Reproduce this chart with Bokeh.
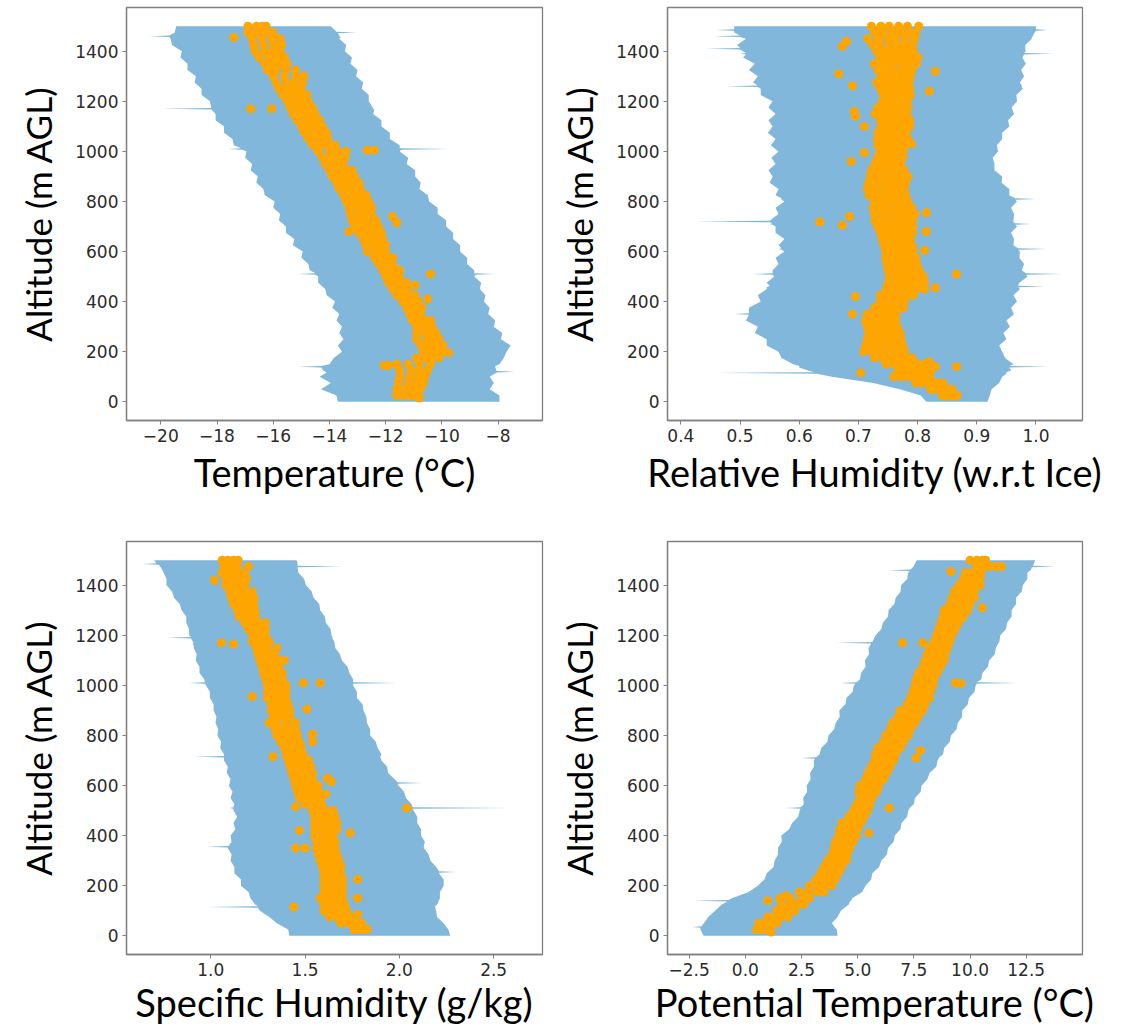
from bokeh.plotting import figure
from bokeh.layouts import row, column
from bokeh.models import FixedTicker, Range1d
from bokeh.embed import file_html
from bokeh.resources import INLINE

# ---------------- data ----------------
alt_ticks = [0, 200, 400, 600, 800, 1000, 1200, 1400]
alt_labels = ["0", "200", "400", "600", "800", "1000", "1200", "1400"]
alt_range = (-75, 1575)

# altitude of the rows of profile points (descending, m AGL)
pt_alt = list(range(1500, 0, -25))

# ---- Temperature ----
t_ticks = [-20, -18, -16, -14, -12, -10, -8]
t_labels = ["\u221220", "\u221218", "\u221216", "\u221214", "\u221212", "\u221210", "\u22128"]
t_range = (-21.22, -6.42)
t_band_alt = [0, 25, 50, 75, 100,
              117, 120, 123, 137, 140, 143,
              150, 175, 200, 225, 250, 275, 300, 325, 350, 375, 400, 425, 450, 475, 500,
              507, 510, 513,
              525, 550, 575, 600, 625, 650, 675, 700, 725, 750, 775, 800, 825, 850, 875, 900, 925, 950, 975, 1000,
              1007, 1010, 1013,
              1025, 1050, 1075, 1100, 1125, 1150,
              1167, 1170, 1173,
              1200, 1225, 1250, 1275, 1300, 1325, 1350, 1375, 1400, 1425, 1450,
              1457, 1460, 1463, 1472, 1475, 1478,
              1500]
t_band_lo = [-13.7, -13.75, -14.3, -13.95, -14.35,
             -14.1, -14.15, -14.2, -14.3, -15.1, -14.3,
             -14.0, -13.85, -13.55, -13.7, -13.5, -13.65, -13.55, -13.75, -13.65, -13.9, -13.8, -14.1, -14.15, -14.4, -14.4,
             -14.5, -15.1, -14.5,
             -14.7, -14.75, -15.0, -14.95, -15.3, -15.25, -15.55, -15.55, -15.8, -15.75, -16.0, -15.95, -16.3, -16.35,
             -16.6, -16.55, -16.8, -16.75, -17.0, -16.95,
             -17.1, -17.6, -17.15,
             -17.4, -17.45, -17.75, -17.75, -18.05, -18.05,
             -18.2, -19.95, -18.2,
             -18.25, -18.55, -18.55, -18.8, -18.75, -19.05, -19.05, -19.3, -19.25, -19.6, -19.65,
             -19.7, -20.4, -19.7, -19.55, -19.5, -19.5,
             -19.45]
t_band_hi = [-7.95, -7.95, -8.3, -8.15, -8.3,
             -8.05, -7.4, -8.05, -8.1, -8.1, -8.1,
             -7.95, -7.8, -7.7, -7.55, -7.9, -7.85, -8.15, -8.1, -8.35, -8.3, -8.5, -8.45, -8.65, -8.6, -8.85,
             -8.8, -8.15, -8.85,
             -8.85, -9.1, -9.1, -9.35, -9.35, -9.6, -9.6, -9.85, -9.85, -10.15, -10.15, -10.45, -10.5, -10.8, -10.75,
             -10.95, -10.95, -11.25, -11.2, -11.5,
             -11.45, -9.7, -11.5,
             -11.5, -11.85, -11.85, -12.15, -12.15, -12.45,
             -12.4, -12.45, -12.45,
             -12.6, -12.6, -12.85, -12.8, -13.05, -13.0, -13.25, -13.2, -13.45, -13.4, -13.65,
             -13.6, -13.65, -13.65, -13.7, -13.05, -13.75,
             -13.95]
t_p1 = [-16.9, -16.9, -16.75, -16.7, -16.65, -16.5, -16.3, -16.2, -16.0, -15.9, -15.8, -15.65, -15.5, -15.4, -15.3,
        -15.15, -15.0, -14.9, -14.75, -14.6, -14.4, -14.25, -14.15, -14.0, -13.9, -13.75, -13.65, -13.5, -13.4,
        -13.3, -13.25, -13.2, -13.1, -12.95, -12.8, -12.7, -12.65, -12.4, -12.25, -12.1, -12.0, -11.9, -11.75,
        -11.6, -11.4, -11.25, -11.15, -11.05, -10.9, -10.9, -10.9, -10.75, -10.65, -10.9, -11.6, -11.5, -11.5,
        -11.55, -11.6, -11.6]
t_p2 = [-16.6, -16.6, -16.4, -16.35, -16.3, -16.15, -16.0, -15.9, -15.6, -15.55, -15.5, -15.35, -15.2, -15.1, -15.0,
        -14.85, -14.75, -14.6, -14.5, -14.3, -14.0, -13.95, -13.85, -13.7, -13.6, -13.45, -13.35, -13.2, -13.1,
        -13.0, -12.95, -12.9, -12.8, -12.65, -12.5, -12.4, -12.35, -12.15, -12.0, -11.85, -11.75, -11.65, -11.5,
        -11.35, -11.15, -11.0, -10.95, -10.8, -10.65, -10.6, -10.55, -10.45, -10.4, -10.6, -11.2, -11.1, -11.15,
        -11.2, -11.3, -11.35]
t_p3 = [-16.4, -16.3, -16.05, -16.0, -16.0, -15.85, -15.75, -15.55, -15.2, -15.25, -15.25, -15.05, -14.95, -14.85,
        -14.75, -14.6, -14.5, -14.35, -14.25, -14.05, -13.7, -13.7, -13.6, -13.45, -13.35, -13.2, -13.1, -12.95,
        -12.85, -12.75, -12.7, -12.6, -12.5, -12.4, -12.3, -12.2, -12.15, -11.95, -11.8, -11.65, -11.6, -11.45,
        -11.35, -11.15, -10.95, -10.8, -10.8, -10.6, -10.5, -10.35, -10.3, -10.2, -10.2, -10.35, -10.8, -10.8,
        -10.85, -10.9, -11.0, -11.1]
t_p4 = [-16.25, -16.0, -15.75, -15.7, -15.75, -15.6, -15.5, -15.2, -14.9, -14.95, -15.0, -14.8, -14.75, -14.6, -14.5,
        -14.35, -14.25, -14.1, -14.05, -13.8, -13.4, -13.45, -13.5, -13.2, -13.1, -12.95, -12.9, -12.7, -12.6,
        -12.5, -12.5, -12.35, -12.25, -12.15, -12.1, -12.0, -12.0, -11.75, -11.75, -11.5, -11.5, -11.25, -11.25,
        -10.95, -10.85, -10.7, -10.75, -10.4, -10.35, -10.2, -10.1, -9.95, -10.0, -10.1, -10.4, -10.5, -10.6,
        -10.65, -10.75, -10.95]
t_out_x = [-17.4, -16.8, -16.05, -12.65, -12.4, -11.75, -11.6, -13.3, -10.4, -10.95, -10.5, -9.75, -12.05, -11.9, -10.8]
t_out_y = [1455, 1170, 1170, 1005, 1005, 740, 715, 680, 510, 465, 410, 195, 145, 145, 15]

# ---- Relative humidity ----
rh_ticks = [0.4, 0.5, 0.6, 0.7, 0.8, 0.9, 1.0]
rh_labels = ["0.4", "0.5", "0.6", "0.7", "0.8", "0.9", "1.0"]
rh_range = (0.3774, 1.0787)
rh_band_alt = [0, 25, 50, 75, 100,
               112, 115, 118, 125, 137, 140, 143,
               150, 175, 200, 225, 250, 275, 300, 325,
               347, 350, 353, 375, 400, 425, 450,
               457, 460, 463, 475, 500,
               507, 510, 513, 525, 550, 575, 600,
               607, 610, 613, 625, 650, 675, 700,
               707, 710, 713, 717, 720, 723, 750, 775, 800,
               807, 810, 813,
               825, 850, 875, 900, 925, 950, 975, 1000, 1025, 1050, 1075, 1100, 1125, 1150, 1175, 1200, 1225, 1250,
               1257, 1260, 1263, 1275, 1300, 1325, 1350, 1375,
               1387, 1390, 1393, 1400, 1407, 1410, 1413, 1425, 1450,
               1457, 1460, 1463, 1475, 1482, 1485, 1488, 1500]
rh_band_lo = [0.815, 0.805, 0.77, 0.725, 0.655,
              0.63, 0.46, 0.625, 0.615, 0.6, 0.6, 0.6,
              0.59, 0.57, 0.565, 0.545, 0.545, 0.525, 0.53, 0.51,
              0.515, 0.49, 0.515, 0.515, 0.535, 0.53, 0.545,
              0.545, 0.548, 0.55, 0.545, 0.558,
              0.555, 0.52, 0.555, 0.555, 0.565, 0.56, 0.575,
              0.57, 0.565, 0.57, 0.565, 0.575, 0.56, 0.56,
              0.555, 0.55, 0.555, 0.55, 0.425, 0.55, 0.565, 0.56, 0.575,
              0.57, 0.57, 0.57,
              0.56, 0.565, 0.55, 0.555, 0.548, 0.56, 0.553, 0.565, 0.552, 0.56, 0.547, 0.555, 0.548, 0.56, 0.548,
              0.555, 0.535, 0.535,
              0.53, 0.475, 0.53, 0.522, 0.53, 0.515, 0.525, 0.505,
              0.51, 0.5, 0.51, 0.505, 0.5, 0.443, 0.5, 0.495, 0.51,
              0.5, 0.456, 0.5, 0.49, 0.49, 0.46, 0.49, 0.49]
rh_band_hi = [0.918, 0.922, 0.925, 0.938, 0.943,
              0.95, 0.95, 0.95, 0.958, 0.955, 1.02, 0.955,
              0.962, 0.948, 0.943, 0.938, 0.95, 0.945, 0.956, 0.95,
              0.962, 0.962, 0.962, 0.958, 0.968, 0.962, 0.973,
              0.97, 1.014, 0.97, 0.972, 0.986,
              0.983, 1.045, 0.983, 0.976, 0.98, 0.972, 0.973,
              0.97, 1.02, 0.97, 0.962, 0.963, 0.958, 0.968,
              0.965, 0.99, 0.965, 0.962, 0.962, 0.962, 0.963, 0.958, 0.968,
              0.965, 1.0, 0.965,
              0.955, 0.955, 0.942, 0.943, 0.93, 0.93, 0.927, 0.936, 0.934, 0.943, 0.943, 0.955, 0.953, 0.963, 0.959,
              0.968, 0.967, 0.978,
              0.976, 0.976, 0.976, 0.973, 0.98, 0.975, 0.983, 0.977,
              0.98, 1.03, 0.98, 0.983, 0.982, 0.982, 0.982, 0.982, 0.993,
              0.993, 0.995, 0.995, 0.998, 1.0, 1.02, 1.0, 1.0]
rh_p1 = [0.722, 0.728, 0.716, 0.724, 0.731, 0.736, 0.727, 0.733, 0.738, 0.731,
         0.737, 0.742, 0.741, 0.733, 0.728, 0.737, 0.738, 0.733, 0.732, 0.733,
         0.736, 0.732, 0.728, 0.722, 0.72, 0.717, 0.715, 0.718, 0.727, 0.725,
         0.727, 0.728, 0.732, 0.737, 0.74, 0.743, 0.746, 0.746, 0.748, 0.75,
         0.752, 0.75, 0.747, 0.737, 0.737, 0.727, 0.715, 0.712, 0.715, 0.717,
         0.715, 0.712, 0.709, 0.727, 0.747, 0.767, 0.772, 0.797, 0.822, 0.842]
rh_p2 = [0.738, 0.741, 0.733, 0.737, 0.745, 0.749, 0.742, 0.747, 0.75, 0.745,
         0.749, 0.753, 0.751, 0.745, 0.741, 0.749, 0.748, 0.744, 0.744, 0.743,
         0.745, 0.742, 0.738, 0.734, 0.733, 0.73, 0.728, 0.731, 0.739, 0.738,
         0.741, 0.741, 0.745, 0.749, 0.751, 0.753, 0.757, 0.758, 0.76, 0.762,
         0.765, 0.763, 0.76, 0.749, 0.746, 0.738, 0.726, 0.724, 0.727, 0.729,
         0.728, 0.726, 0.723, 0.741, 0.761, 0.78, 0.784, 0.808, 0.831, 0.848]
rh_p3 = [0.752, 0.757, 0.749, 0.754, 0.758, 0.763, 0.756, 0.758, 0.761, 0.757,
         0.759, 0.764, 0.76, 0.756, 0.753, 0.759, 0.758, 0.755, 0.756, 0.754,
         0.754, 0.752, 0.748, 0.747, 0.746, 0.744, 0.742, 0.745, 0.751, 0.751,
         0.755, 0.754, 0.757, 0.761, 0.761, 0.764, 0.767, 0.769, 0.771, 0.774,
         0.777, 0.776, 0.773, 0.761, 0.755, 0.749, 0.737, 0.735, 0.738, 0.741,
         0.74, 0.739, 0.737, 0.755, 0.775, 0.792, 0.795, 0.818, 0.84, 0.853]
rh_p4 = [0.768, 0.771, 0.762, 0.768, 0.771, 0.777, 0.771, 0.772, 0.772, 0.769,
         0.771, 0.773, 0.769, 0.767, 0.764, 0.77, 0.769, 0.765, 0.767, 0.764,
         0.762, 0.761, 0.757, 0.758, 0.76, 0.757, 0.755, 0.758, 0.763, 0.765,
         0.769, 0.767, 0.769, 0.772, 0.771, 0.774, 0.777, 0.779, 0.782, 0.785,
         0.789, 0.788, 0.786, 0.773, 0.764, 0.76, 0.748, 0.746, 0.749, 0.752,
         0.752, 0.752, 0.751, 0.768, 0.788, 0.803, 0.805, 0.827, 0.847, 0.858]
rh_p5 = [0.783, 0.786, 0.779, 0.781, 0.784, 0.789, 0.784, 0.783, 0.781, 0.778,
         0.779, 0.781, 0.777, 0.776, 0.774, 0.779, 0.778, 0.774, 0.776, 0.772,
         0.769, 0.769, 0.765, 0.768, 0.772, 0.769, 0.767, 0.769, 0.774, 0.778,
         0.782, 0.78, 0.781, 0.782, 0.78, 0.783, 0.785, 0.788, 0.791, 0.794,
         0.8, 0.8, 0.799, 0.784, 0.772, 0.769, 0.757, 0.755, 0.758, 0.762,
         0.763, 0.764, 0.765, 0.78, 0.8, 0.814, 0.814, 0.836, 0.853, 0.862]
rh_p6 = [0.802, 0.797, 0.795, 0.792, 0.793, 0.801, 0.798, 0.791, 0.788, 0.786,
         0.787, 0.788, 0.783, 0.784, 0.782, 0.787, 0.787, 0.781, 0.784, 0.779,
         0.776, 0.775, 0.772, 0.777, 0.784, 0.78, 0.778, 0.78, 0.784, 0.79,
         0.796, 0.792, 0.792, 0.792, 0.788, 0.791, 0.793, 0.797, 0.799, 0.803,
         0.81, 0.812, 0.812, 0.793, 0.778, 0.776, 0.764, 0.763, 0.766, 0.771,
         0.772, 0.775, 0.778, 0.791, 0.811, 0.823, 0.821, 0.843, 0.858, 0.867]
rh_out_x = [0.68, 0.673, 0.667, 0.83, 0.69, 0.82, 0.693, 0.695, 0.71, 0.71, 0.79, 0.688, 0.815, 0.635, 0.673, 0.685,
            0.815, 0.812, 0.866, 0.83, 0.695, 0.69, 0.83, 0.866, 0.704, 0.82, 0.76]
rh_out_y = [1440, 1420, 1310, 1320, 1262, 1240, 1160, 1140, 1100, 995, 1030, 960, 755, 718, 705, 740, 680, 605, 510,
            455, 420, 350, 140, 140, 115, 160, 100]

# ---- Specific humidity ----
q_ticks = [1.0, 1.5, 2.0, 2.5]
q_labels = ["1.0", "1.5", "2.0", "2.5"]
q_range = (0.553, 2.759)
q_band_alt = [0, 25, 50, 75, 100,
              112, 115, 118, 125, 150, 175, 200, 225, 250,
              252, 255, 258, 275, 300, 325, 350,
              352, 355, 358, 375, 400, 425, 450, 475, 500,
              507, 510, 513, 525, 550, 575, 600,
              607, 610, 613, 625, 650, 675, 700,
              712, 715, 718, 725, 750, 775, 800, 825, 850, 875, 900, 925, 950, 975, 1000,
              1007, 1010, 1013, 1025, 1050, 1075, 1100, 1125, 1150, 1175,
              1187, 1190, 1193, 1200, 1225, 1250, 1275, 1300, 1325, 1350, 1375, 1400, 1425, 1450,
              1472, 1475, 1478, 1482, 1485, 1488, 1500]
q_band_lo = [1.417, 1.41, 1.35, 1.31, 1.26,
             1.25, 0.98, 1.25, 1.235, 1.21, 1.2, 1.16, 1.16, 1.125,
             1.125, 1.125, 1.125, 1.125, 1.105, 1.11, 1.09,
             1.09, 0.98, 1.095, 1.11, 1.105, 1.13, 1.12, 1.14, 1.12,
             1.12, 1.1, 1.12, 1.125, 1.105, 1.115, 1.095,
             1.1, 1.1, 1.1, 1.105, 1.085, 1.09, 1.07,
             1.07, 0.915, 1.07, 1.07, 1.05, 1.055, 1.035, 1.04, 1.025, 1.03, 1.015, 1.015, 0.995, 0.995, 0.975,
             0.97, 0.886, 0.97, 0.965, 0.94, 0.94, 0.92, 0.925, 0.91, 0.905,
             0.895, 0.77, 0.895, 0.885, 0.885, 0.87, 0.87, 0.845, 0.835, 0.805, 0.795, 0.765, 0.765, 0.75,
             0.735, 0.73, 0.73, 0.72, 0.64, 0.71, 0.70]
q_band_hi = [2.27, 2.26, 2.235, 2.2, 2.195,
             2.19, 2.19, 2.19, 2.2, 2.215, 2.215, 2.235, 2.235, 2.21,
             2.21, 2.3, 2.21, 2.195, 2.165, 2.155, 2.13,
             2.13, 2.13, 2.13, 2.135, 2.115, 2.115, 2.095, 2.095, 2.075,
             2.07, 2.61, 2.07, 2.065, 2.035, 2.025, 1.995,
             1.99, 2.12, 1.99, 1.975, 1.94, 1.935, 1.905,
             1.9, 1.9, 1.9, 1.905, 1.885, 1.875, 1.845, 1.845, 1.828, 1.825, 1.81, 1.805, 1.775, 1.775, 1.755,
             1.755, 1.985, 1.755, 1.755, 1.735, 1.725, 1.695, 1.685, 1.66, 1.655,
             1.645, 1.645, 1.645, 1.64, 1.635, 1.61, 1.605, 1.58, 1.575, 1.545, 1.535, 1.505, 1.495, 1.465,
             1.46, 1.7, 1.46, 1.46, 1.46, 1.46, 1.455]
q_p1 = [1.06, 1.07, 1.06, 1.08, 1.08, 1.1, 1.11, 1.12, 1.14, 1.15, 1.18, 1.2, 1.22, 1.22, 1.24, 1.25, 1.26, 1.27,
        1.28, 1.29, 1.3, 1.3, 1.3, 1.32, 1.32, 1.33, 1.31, 1.34, 1.35, 1.37, 1.39, 1.4, 1.41, 1.42, 1.43, 1.44, 1.45,
        1.46, 1.47, 1.5, 1.54, 1.55, 1.55, 1.55, 1.55, 1.56, 1.56, 1.57, 1.58, 1.59, 1.6, 1.6, 1.6, 1.6, 1.58, 1.6,
        1.6, 1.63, 1.69, 1.76]
q_p2 = [1.09, 1.1, 1.1, 1.12, 1.11, 1.14, 1.15, 1.16, 1.17, 1.18, 1.21, 1.23, 1.25, 1.25, 1.27, 1.28, 1.29, 1.3,
        1.31, 1.32, 1.33, 1.33, 1.33, 1.35, 1.35, 1.36, 1.35, 1.38, 1.39, 1.4, 1.42, 1.43, 1.44, 1.45, 1.47, 1.48,
        1.49, 1.5, 1.5, 1.53, 1.57, 1.59, 1.59, 1.59, 1.59, 1.6, 1.6, 1.61, 1.61, 1.62, 1.63, 1.63, 1.63, 1.63, 1.62,
        1.64, 1.64, 1.67, 1.73, 1.79]
q_p3 = [1.12, 1.14, 1.14, 1.16, 1.15, 1.18, 1.19, 1.2, 1.2, 1.21, 1.25, 1.26, 1.27, 1.28, 1.3, 1.31, 1.32, 1.33,
        1.34, 1.35, 1.36, 1.36, 1.37, 1.38, 1.38, 1.39, 1.4, 1.42, 1.43, 1.44, 1.45, 1.46, 1.48, 1.49, 1.5, 1.51,
        1.53, 1.54, 1.54, 1.56, 1.61, 1.62, 1.63, 1.63, 1.62, 1.63, 1.63, 1.64, 1.65, 1.66, 1.66, 1.67, 1.67, 1.67,
        1.66, 1.68, 1.68, 1.71, 1.77, 1.81]
q_p4 = [1.145, 1.2, 1.18, 1.19, 1.18, 1.22, 1.23, 1.23, 1.235, 1.24, 1.29, 1.29, 1.29, 1.31, 1.35, 1.34, 1.36, 1.36,
        1.38, 1.38, 1.4, 1.4, 1.4, 1.41, 1.42, 1.42, 1.45, 1.45, 1.46, 1.47, 1.48, 1.49, 1.52, 1.53, 1.54, 1.54,
        1.57, 1.57, 1.58, 1.59, 1.65, 1.66, 1.67, 1.67, 1.65, 1.66, 1.66, 1.67, 1.68, 1.69, 1.69, 1.7, 1.7, 1.7, 1.7,
        1.71, 1.72, 1.74, 1.8, 1.83]
q_out_x = [1.02, 1.057, 1.12, 1.39, 1.49, 1.58, 1.22, 1.51, 1.54, 1.54, 1.33, 1.62, 1.64, 1.61, 1.45, 2.04, 1.47,
           1.74, 1.45, 1.5, 1.78, 1.78, 1.44, 1.78]
q_out_y = [1420, 1170, 1165, 1100, 1010, 1010, 955, 905, 805, 775, 715, 630, 615, 565, 515, 510, 420, 410, 350, 350,
           225, 150, 115, 85]

# ---- Potential temperature ----
th_ticks = [-2.5, 0.0, 2.5, 5.0, 7.5, 10.0, 12.5]
th_labels = ["\u22122.5", "0.0", "2.5", "5.0", "7.5", "10.0", "12.5"]
th_range = (-3.466, 15.005)
th_band_alt = [0, 25, 32, 35, 38,
               50, 75, 100, 125, 137,
               140, 143, 150, 175, 200,
               225, 250, 275, 300, 325,
               350, 375, 400, 425, 450,
               475, 500, 507, 510, 513,
               525, 550, 575, 600, 625,
               650, 675, 700, 707, 710,
               713, 725, 750, 775, 800,
               825, 850, 875, 900, 925,
               950, 975, 1000, 1007, 1010,
               1013, 1025, 1050, 1075, 1100,
               1125, 1150, 1167, 1170, 1173,
               1200, 1225, 1250, 1275, 1300,
               1325, 1350, 1375, 1400, 1425,
               1450, 1457, 1460, 1463, 1472,
               1475, 1478, 1500]
th_band_lo = [-1.86, -2.0, -2.0, -2.35, -1.95,
              -1.85, -1.65, -1.35, -1.05, -0.8,
              -2.3, -0.75, -0.6, 0.15, 0.55,
              0.85, 0.95, 1.25, 1.3, 1.45,
              1.45, 1.62, 1.6, 1.95, 2.08,
              2.35, 2.42, 2.45, 1.8, 2.47,
              2.6, 2.57, 2.75, 2.73, 2.9,
              2.88, 3.05, 3.05, 3.1, 2.5,
              3.15, 3.3, 3.38, 3.65, 3.7,
              3.95, 4.02, 4.2, 4.18, 4.45,
              4.5, 4.77, 4.83, 4.9, 4.23,
              4.95, 5.1, 5.15, 5.35, 5.32,
              5.5, 5.48, 5.6, 4.07, 5.65,
              5.8, 6.05, 6.12, 6.35, 6.37,
              6.63, 6.69, 6.91, 6.93, 7.2,
              7.25, 7.3, 6.34, 7.35, 7.45,
              7.5, 7.5, 7.63]
th_band_hi = [4.1, 4.07, 4.0, 3.95, 3.95,
              3.85, 4.1, 4.25, 4.6, 4.65,
              4.7, 4.72, 4.75, 5.2, 5.35,
              5.6, 5.65, 5.95, 6.05, 6.3,
              6.35, 6.6, 6.65, 6.9, 6.95,
              7.2, 7.25, 7.3, 7.32, 7.34,
              7.5, 7.55, 7.8, 7.85, 8.1,
              8.2, 8.5, 8.55, 8.6, 8.62,
              8.64, 8.8, 8.85, 9.1, 9.15,
              9.4, 9.45, 9.65, 9.65, 9.9,
              9.95, 10.2, 10.25, 10.3, 12.15,
              10.3, 10.5, 10.55, 10.8, 10.85,
              11.1, 11.15, 11.25, 11.28, 11.3,
              11.35, 11.6, 11.65, 11.85, 11.85,
              12.05, 12.05, 12.3, 12.35, 12.55,
              12.55, 12.65, 12.7, 12.72, 12.75,
              13.8, 12.8, 12.9]
th_p1 = [10.0, 10.3, 9.8, 9.7, 9.5, 9.3, 9.2, 9.1, 8.85, 8.8, 8.7, 8.6, 8.5, 8.4, 8.2, 8.1, 8.0, 7.9, 7.7, 7.6, 7.55,
         7.45, 7.35, 7.2, 6.9, 6.8, 6.55, 6.45, 6.25, 6.15, 5.9, 5.8, 5.75, 5.6, 5.45, 5.35, 5.1, 5.05, 5.1, 4.95,
         4.8, 4.6, 4.3, 4.2, 4.15, 4.0, 3.95, 3.85, 3.65, 3.5, 3.35, 3.15, 2.85, 2.4, 1.55, 1.6, 1.4, 1.0, 0.6, 0.5]
th_p2 = [10.3, 10.6, 10.1, 10.0, 9.8, 9.6, 9.5, 9.4, 9.2, 9.1, 8.95, 8.85, 8.75, 8.65, 8.5, 8.4, 8.3, 8.15, 8.0,
         7.9, 7.85, 7.7, 7.65, 7.5, 7.2, 7.1, 6.9, 6.75, 6.6, 6.45, 6.25, 6.1, 6.05, 5.9, 5.75, 5.6, 5.4, 5.3, 5.3,
         5.15, 5.0, 4.85, 4.6, 4.5, 4.4, 4.3, 4.2, 4.1, 3.95, 3.8, 3.6, 3.45, 3.2, 2.8, 2.0, 1.95, 1.7, 1.3, 0.9, 0.75]
th_p3 = [10.55, 10.9, 10.3, 10.25, 10.1, 9.9, 9.85, 9.7, 9.5, 9.4, 9.25, 9.1, 9.0, 8.9, 8.75, 8.65, 8.55, 8.4, 8.25,
         8.15, 8.1, 8.0, 7.9, 7.75, 7.55, 7.4, 7.25, 7.05, 6.9, 6.75, 6.6, 6.4, 6.35, 6.2, 6.0, 5.9, 5.7, 5.6, 5.5,
         5.35, 5.25, 5.1, 4.85, 4.75, 4.7, 4.55, 4.45, 4.35, 4.2, 4.05, 3.9, 3.75, 3.5, 3.2, 2.5, 2.3, 1.95, 1.6,
         1.15, 1.0]
th_p4 = [10.7, 11.2, 10.5, 10.45, 10.45, 10.2, 10.2, 10.0, 9.9, 9.7, 9.5, 9.35, 9.2, 9.1, 9.0, 8.9, 8.85, 8.7, 8.55,
         8.4, 8.35, 8.25, 8.2, 8.0, 7.9, 7.7, 7.55, 7.35, 7.25, 7.05, 6.9, 6.7, 6.6, 6.45, 6.3, 6.15, 5.95, 5.85,
         5.65, 5.55, 5.45, 5.3, 5.15, 5.0, 4.95, 4.8, 4.65, 4.55, 4.5, 4.3, 4.15, 4.0, 3.85, 3.5, 2.85, 2.6, 2.2, 1.9,
         1.4, 1.1]
th_out_x = [11.4, 9.15, 10.55, 9.9, 7.0, 7.9, 9.35, 9.6, 7.8, 7.6, 6.4, 5.5, 1.0, 1.15, 1.8]
th_out_y = [1475, 1455, 1310, 1320, 1170, 1170, 1010, 1008, 740, 710, 510, 410, 140, 15, 160]

# ---------------- styling ----------------
BAND = "#80b7da"
DOT = "#ffa500"
FRAME = "#808080"
TICK_TXT = "#2b2b2b"


def panel(xr, xticks, xlabels, xtitle, b_alt, b_lo, b_hi, cols, ox, oy,
          width, height, bl, br, bt, bb, label_standoff):
    assert len(b_alt) == len(b_lo) == len(b_hi), (xtitle, len(b_alt), len(b_lo), len(b_hi))
    for c in cols:
        assert len(c) == len(pt_alt), (xtitle, len(c))
    assert len(ox) == len(oy)
    p = figure(width=width, height=height, x_range=Range1d(*xr), y_range=Range1d(*alt_range),
               output_backend="svg", toolbar_location=None,
               min_border_left=bl, min_border_right=br, min_border_top=bt, min_border_bottom=bb)
    p.background_fill_color = "white"
    p.border_fill_color = "white"
    p.harea(x1=b_lo, x2=b_hi, y=b_alt, fill_color=BAND, fill_alpha=1.0)
    xs = []
    ys = []
    for c in cols:
        xs += c
        ys += pt_alt
    xs += ox
    ys += oy
    p.scatter(xs, ys, size=9, fill_color=DOT, line_color=None)

    p.xgrid.visible = False
    p.ygrid.visible = False
    p.outline_line_color = FRAME
    p.outline_line_width = 1.3
    p.outline_line_alpha = 1.0

    p.xaxis.ticker = FixedTicker(ticks=xticks)
    p.xaxis.major_label_overrides = {t: s for t, s in zip(xticks, xlabels)}
    p.yaxis.ticker = FixedTicker(ticks=alt_ticks)
    p.yaxis.major_label_overrides = {t: s for t, s in zip(alt_ticks, alt_labels)}
    p.xaxis.axis_label = xtitle
    p.yaxis.axis_label = "Altitude (m AGL)"

    for ax in (p.xaxis, p.yaxis):
        ax.axis_line_color = FRAME
        ax.axis_line_width = 1.3
        ax.major_tick_line_color = FRAME
        ax.major_tick_line_width = 1
        ax.major_tick_out = 4
        ax.major_tick_in = 0
        ax.minor_tick_line_color = None
        ax.major_label_text_font = "DejaVu Sans"
        ax.major_label_text_font_size = "17px"
        ax.major_label_text_color = TICK_TXT
        ax.major_label_standoff = 4
        ax.axis_label_text_font = "Lato"
        ax.axis_label_text_font_style = "normal"
        ax.axis_label_text_color = "#000000"
    p.xaxis.axis_label_text_font_size = "38px"
    p.yaxis.axis_label_text_font_size = "35px"
    p.xaxis.axis_label_standoff = label_standoff
    p.yaxis.axis_label_standoff = 13
    return p


top_h = 498
bot_h = 530

p1 = panel(t_range, t_ticks, t_labels, "Temperature (\u00b0C)", t_band_alt, t_band_lo, t_band_hi,
           [t_p1, t_p2, t_p3, t_p4], t_out_x, t_out_y, 552, top_h, 126, 10, 7, 78, 4)
p2 = panel(rh_range, rh_ticks, rh_labels, "Relative Humidity (w.r.t Ice)", rh_band_alt, rh_band_lo, rh_band_hi,
           [rh_p1, rh_p2, rh_p3, rh_p4, rh_p5, rh_p6], rh_out_x, rh_out_y, 575, top_h, 115, 45, 7, 78, 4)
p3 = panel(q_range, q_ticks, q_labels, "Specific Humidity (g/kg)", q_band_alt, q_band_lo, q_band_hi,
           [q_p1, q_p2, q_p3, q_p4], q_out_x, q_out_y, 552, bot_h, 126, 10, 43, 74, 0)
p4 = panel(th_range, th_ticks, th_labels, "Potential Temperature (\u00b0C)", th_band_alt, th_band_lo, th_band_hi,
           [th_p1, th_p2, th_p3, th_p4], th_out_x, th_out_y, 575, bot_h, 115, 45, 43, 74, 0)

layout = column(row(p1, p2), row(p3, p4))

open("out.html", "w").write(file_html(layout, INLINE, title="Profiles"))
